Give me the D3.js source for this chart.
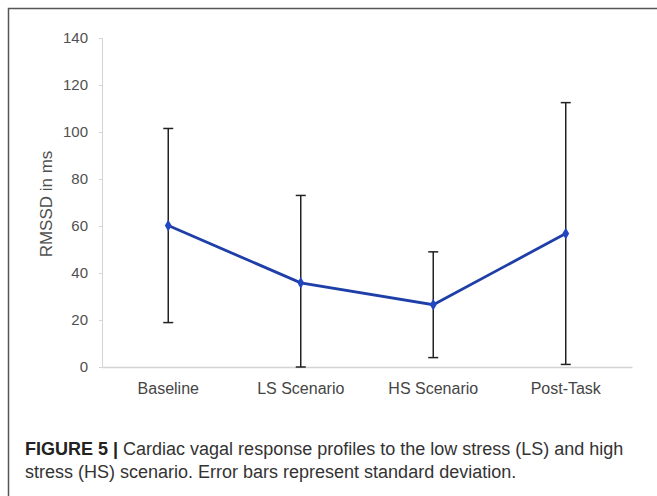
<!DOCTYPE html>
<html>
<head>
<meta charset="utf-8">
<script src="https://cdn.jsdelivr.net/npm/d3@7"></script>
<style>
  body { margin: 0; background: #fff; }
  svg { display: block; }
</style>
</head>
<body>
<svg id="chart" width="657" height="496"></svg>
<script>
// data
var conditions = ["Baseline", "LS Scenario", "HS Scenario", "Post-Task"];
var meanRMSSD = [60.2, 35.8, 26.5, 56.8];
var sdRMSSD = [41.3, 37.2, 22.5, 55.7];
var yTicks = [0, 20, 40, 60, 80, 100, 120, 140];

var svg = d3.select("#chart");

// frame around the figure (right and bottom edges fall outside the picture)
svg.append("path")
  .attr("d", "M8.5,496 L8.5,8.5 L657,8.5")
  .attr("fill", "none")
  .attr("stroke", "#555")
  .attr("stroke-width", 1.5);

var x = d3.scaleBand()
  .domain(conditions)
  .range([102, 632]);

var y = d3.scaleLinear()
  .domain([0, 140])
  .range([367, 38]);

var g = svg.append("g");

// y axis
var yAxis = g.append("g")
  .attr("transform", "translate(102,0)")
  .call(d3.axisLeft(y).tickValues(yTicks).tickSize(3).tickPadding(11));
yAxis.select(".domain").attr("stroke", "#d4d4d4");
yAxis.selectAll(".tick line").attr("stroke", "#d4d4d4");
yAxis.selectAll("text")
  .attr("fill", "#505050")
  .style("font-family", "Liberation Sans, Arial, sans-serif")
  .style("font-size", "15px");

// x axis
var xAxis = g.append("g")
  .attr("transform", "translate(0,367)")
  .call(d3.axisBottom(x).tickSize(0).tickPadding(16));
xAxis.select(".domain").attr("stroke", "#d4d4d4").attr("stroke-width", 1.5);
xAxis.selectAll("text")
  .attr("fill", "#454545")
  .style("font-family", "Liberation Sans, Arial, sans-serif")
  .style("font-size", "16px");

// y label
g.append("text")
  .attr("transform", "translate(52,204) rotate(-90)")
  .attr("text-anchor", "middle")
  .attr("fill", "#505050")
  .style("font-family", "Liberation Sans, Arial, sans-serif")
  .style("font-size", "17px")
  .text("RMSSD in ms");

var pts = conditions.map(function(c, i) {
  return {
    name: c,
    mean: meanRMSSD[i],
    lo: Math.max(0, meanRMSSD[i] - sdRMSSD[i]),
    hi: meanRMSSD[i] + sdRMSSD[i]
  };
});
var cx = function(d) { return x(d.name) + x.bandwidth() / 2; };

// error bars
var err = g.selectAll(".err").data(pts).enter().append("g").attr("class", "err")
  .attr("stroke", "#222").attr("stroke-width", 1.5);
err.append("line")
  .attr("x1", cx).attr("x2", cx)
  .attr("y1", function(d) { return y(d.lo); })
  .attr("y2", function(d) { return y(d.hi); });
err.append("line")
  .attr("x1", function(d) { return cx(d) - 5; })
  .attr("x2", function(d) { return cx(d) + 5; })
  .attr("y1", function(d) { return y(d.hi); })
  .attr("y2", function(d) { return y(d.hi); });
err.append("line")
  .attr("x1", function(d) { return cx(d) - 5; })
  .attr("x2", function(d) { return cx(d) + 5; })
  .attr("y1", function(d) { return y(d.lo); })
  .attr("y2", function(d) { return y(d.lo); });

// mean line
var line = d3.line()
  .x(cx)
  .y(function(d) { return y(d.mean); });
g.append("path")
  .datum(pts)
  .attr("d", line)
  .attr("fill", "none")
  .attr("stroke", "#1f3fa8")
  .attr("stroke-width", 2.8);

g.selectAll(".pt").data(pts).enter().append("path")
  .attr("class", "pt")
  .attr("d", d3.symbol().type(d3.symbolDiamond).size(40))
  .attr("transform", function(d) { return "translate(" + cx(d) + "," + y(d.mean) + ")"; })
  .attr("fill", "#2347c0");

// caption
var cap = svg.append("text")
  .attr("x", 25)
  .attr("y", 455)
  .attr("fill", "#333")
  .style("font-family", "Liberation Sans, Arial, sans-serif")
  .style("font-size", "18px");
cap.append("tspan").attr("font-weight", "bold").attr("fill", "#222").text("FIGURE 5 | ");
cap.append("tspan").text("Cardiac vagal response profiles to the low stress (LS) and high");
svg.append("text")
  .attr("x", 25)
  .attr("y", 478)
  .attr("fill", "#333")
  .style("font-family", "Liberation Sans, Arial, sans-serif")
  .style("font-size", "18px")
  .text("stress (HS) scenario. Error bars represent standard deviation.");
</script>
</body>
</html>
